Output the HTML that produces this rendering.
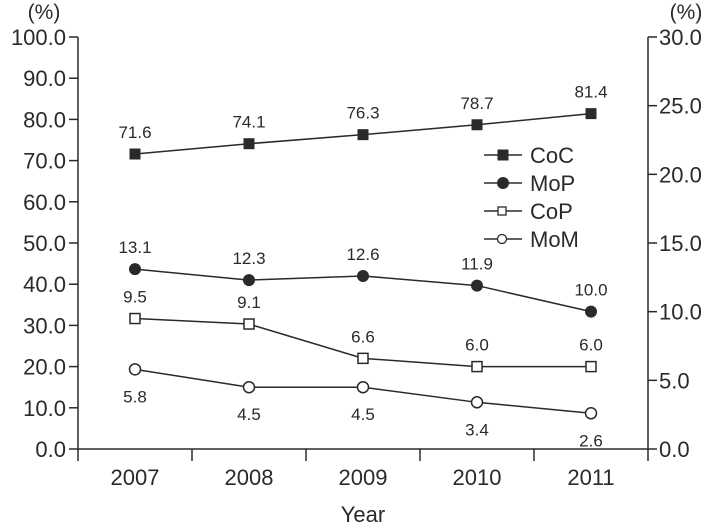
<!DOCTYPE html>
<html><head><meta charset="utf-8"><style>
body{margin:0;background:#fff}
svg{font-family:"Liberation Sans",sans-serif;fill:#2a2a2a}
</style></head><body>
<svg id="chart" width="715" height="525" viewBox="0 0 715 525" xmlns="http://www.w3.org/2000/svg"></svg>
<script>
const categories=["2007","2008","2009","2010","2011"];
const coc=[71.6,74.1,76.3,78.7,81.4];
const mop=[13.1,12.3,12.6,11.9,10.0];
const cop=[9.5,9.1,6.6,6.0,6.0];
const mom=[5.8,4.5,4.5,3.4,2.6];
const leftTicks=[0,10,20,30,40,50,60,70,80,90,100];
const rightTicks=[0,5,10,15,20,25,30];

const L=78,R=648,T=37,B=449;
const cw=(R-L)/categories.length;
const x=i=>L+cw*(i+0.5);
const yl=v=>B-(v/100)*(B-T);
const yr=v=>B-(v/30)*(B-T);
const svg=document.getElementById('chart');
const NS="http://www.w3.org/2000/svg";
function mk(tag,a,parent){const e=document.createElementNS(NS,tag);for(const k in a)e.setAttribute(k,a[k]);(parent||svg).appendChild(e);return e;}
const C="#2a2a2a";
let e=mk('line',{x1:L,y1:T,x2:L,y2:B,stroke:C,'stroke-width':1.5});


e=mk('line',{x1:R,y1:T,x2:R,y2:B,stroke:C,'stroke-width':1.5});


e=mk('line',{x1:L,y1:B,x2:R,y2:B,stroke:C,'stroke-width':1.5});


leftTicks.forEach(v=>{
  mk('line',{x1:L-9,y1:yl(v),x2:L,y2:yl(v),stroke:C,'stroke-width':1.5});
  const t=mk('text',{x:L-12,y:yl(v)+8,'text-anchor':'end','font-size':22});
  t.textContent=v.toFixed(1);
  
  
});
rightTicks.forEach(v=>{
  mk('line',{x1:R,y1:yr(v),x2:R+9,y2:yr(v),stroke:C,'stroke-width':1.5});
  const t=mk('text',{x:R+11,y:yr(v)+8,'font-size':22});
  t.textContent=v.toFixed(1);
  
  
});
for(let i=0;i<=categories.length;i++){mk('line',{x1:L+cw*i,y1:B,x2:L+cw*i,y2:B+12,stroke:C,'stroke-width':1.5});}
categories.forEach((c,i)=>{
  const t=mk('text',{x:x(i),y:485,'text-anchor':'middle','font-size':22});
  t.textContent=c;
  
  
});
let t=mk('text',{x:363,y:522,'text-anchor':'middle','font-size':22});t.textContent="Year";


t=mk('text',{x:44,y:19,'text-anchor':'middle','font-size':21});t.textContent="(%)";


t=mk('text',{x:686,y:19,'text-anchor':'middle','font-size':21});t.textContent="(%)";



function marker(type,cx,cy,g){
  if(type==='sq') return mk('rect',{x:cx-5.5,y:cy-5.5,width:11,height:11,fill:C},g);
  if(type==='osq') return mk('rect',{x:cx-5,y:cy-5,width:10,height:10,fill:'#fff',stroke:C,'stroke-width':1.5},g);
  if(type==='ci') return mk('circle',{cx:cx,cy:cy,r:6,fill:C},g);
  return mk('circle',{cx:cx,cy:cy,r:5.5,fill:'#fff',stroke:C,'stroke-width':1.5},g);
}
function series(name,vals,yf,type,labOff){
  const g=mk('g',{});
  
  
  mk('polyline',{points:vals.map((v,i)=>x(i)+','+yf(v)).join(' '),fill:'none',stroke:C,'stroke-width':1.5},g);
  vals.forEach((v,i)=>{
    const m=marker(type,x(i),yf(v),g);
    
    
    const l=mk('text',{x:x(i),y:yf(v)+labOff,'text-anchor':'middle','font-size':17},g);
    l.textContent=v.toFixed(1);
    
    
  });
}
series('coc',coc,yl,'sq',-16);
series('mop',mop,yr,'ci',-16);
series('cop',cop,yr,'osq',-16);
series('mom',mom,yr,'oci',33);

const leg=[['CoC','sq'],['MoP','ci'],['CoP','osq'],['MoM','oci']];
const lg=mk('g',{});


leg.forEach((d,i)=>{
  const yy=155+i*28;
  const g=mk('g',{},lg);
  
  
  mk('line',{x1:484,y1:yy,x2:522,y2:yy,stroke:C,'stroke-width':1.5},g);
  if(d[1]==='osq') mk('rect',{x:498,y:yy-4,width:8,height:8,fill:'#fff',stroke:C,'stroke-width':1.3},g);
  else if(d[1]==='oci') mk('circle',{cx:502,cy:yy,r:4.5,fill:'#fff',stroke:C,'stroke-width':1.3},g);
  else marker(d[1],503,yy,g);
  const tx=mk('text',{x:530,y:yy+8,'font-size':22},g);tx.textContent=d[0];
});
</script>
</body></html>
